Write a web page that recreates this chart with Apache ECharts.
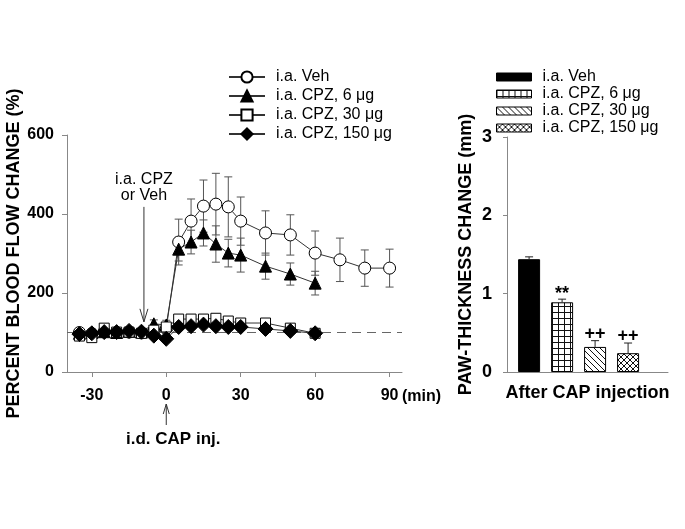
<!DOCTYPE html>
<html><head><meta charset="utf-8">
<script src="https://cdn.jsdelivr.net/npm/echarts@6/dist/echarts.min.js"></script>
<style>html,body{margin:0;padding:0;background:#fff}#c{width:685px;height:529px}</style>
</head><body><div id="c"></div>
<script>
// ---------- Left panel data (percent blood flow change) ----------
const times = [-35,-30,-25,-20,-15,-10,-5,0,5,10,15,20,25,30,40,50,60,70,80,90];
const vehMean = [100,97,102,100,101,99,104,110,329,382,420,425,418,382,352,347,301,284,263,263];
const vehSem  = [8,8,8,8,8,8,8,10,58,56,66,78,76,61,56,51,56,55,46,48];
const cpz6Mean = [98,100,102,100,103,101,122,119,311,329,352,324,301,296,268,248,225];
const cpz6Sem  = [8,8,8,8,8,8,10,12,30,30,33,46,35,43,33,28,30];
const cpz30Mean = [91,87,111,101,101,98,106,114,134,134,134,136,129,124,124,111,98];
const cpz30Sem  = [8,8,8,8,8,8,8,8,8,8,8,8,8,8,8,8,8];
const cpz150Mean = [96,98,101,101,104,102,92,84,114,116,120,116,114,114,109,104,98];
const cpz150Sem  = [8,8,8,8,8,8,8,8,8,8,8,8,8,8,8,8,8];
const leftNames = ['i.a. Veh','i.a. CPZ, 6 \u03bcg','i.a. CPZ, 30 \u03bcg','i.a. CPZ, 150 \u03bcg'];
const xTickLabels = [-30,0,30,60,90];
const xMin = -40, xMax = 95;
const baselineValue = 100;
// annotations
const iaArrowTime = -9, iaArrowTopVal = 418, iaArrowTipVal = 127, iaLabelVal = 466;
const iaLabel = 'i.a. CPZ\nor Veh';
const idLabel = 'i.d. CAP inj.';
const unitLabel = '(min)';

// ---------- Right panel data (paw thickness) ----------
const barNames = ['i.a. Veh','i.a. CPZ, 6 \u03bcg','i.a. CPZ, 30 \u03bcg','i.a. CPZ, 150 \u03bcg'];
const pawMean = [1.44, 0.89, 0.32, 0.24];
const pawSem  = [0.03, 0.04, 0.08, 0.13];
const pawMarks = ['', '**', '++', '++'];

const FONT = 'Liberation Sans';

function pat(draw){
  const c=document.createElement('canvas'); c.width=6; c.height=6;
  const g=c.getContext('2d'); g.fillStyle='#fff'; g.fillRect(0,0,6,6);
  g.strokeStyle='#111'; g.lineWidth=1; g.beginPath(); draw(g); g.stroke();
  return {image:c, repeat:'repeat'};
}
const fills = [
  '#000',
  pat(g=>{g.moveTo(0,0.5);g.lineTo(6,0.5);g.moveTo(0.5,0);g.lineTo(0.5,6);}),
  pat(g=>{g.moveTo(-1,-1);g.lineTo(7,7);g.moveTo(-1,5);g.lineTo(1,7);g.moveTo(5,-1);g.lineTo(7,1);}),
  pat(g=>{g.moveTo(-1,-1);g.lineTo(7,7);g.moveTo(-1,5);g.lineTo(1,7);g.moveTo(5,-1);g.lineTo(7,1);
          g.moveTo(-1,7);g.lineTo(7,-1);g.moveTo(-1,1);g.lineTo(1,-1);g.moveTo(5,7);g.lineTo(7,5);})
];

function pairs(m){ return m.map((v,i)=>[times[i], v]); }
function errs(m,s){ return m.map((v,i)=>[times[i], v-s[i], v+s[i]]); }
function errRender(params, api){
  const x=api.value(0);
  const lo=api.coord([x, api.value(1)]), hi=api.coord([x, api.value(2)]);
  const w=4, st={stroke:'#555', lineWidth:1};
  return {type:'group', children:[
    {type:'line', shape:{x1:lo[0],y1:lo[1],x2:hi[0],y2:hi[1]}, style:st},
    {type:'line', shape:{x1:hi[0]-w,y1:hi[1],x2:hi[0]+w,y2:hi[1]}, style:st},
    {type:'line', shape:{x1:lo[0]-w,y1:lo[1],x2:lo[0]+w,y2:lo[1]}, style:st}
  ]};
}

const leftSets = [
  {m:vehMean, s:vehSem, sym:'circle', size:12, fill:'#fff'},
  {m:cpz6Mean, s:cpz6Sem, sym:'triangle', size:12, fill:'#000'},
  {m:cpz30Mean, s:cpz30Sem, sym:'rect', size:10, fill:'#fff'},
  {m:cpz150Mean, s:cpz150Sem, sym:'diamond', size:15, fill:'#000'}
];

const series = [];
leftSets.forEach((d,i)=>{
  series.push({type:'custom', name:'err'+i, xAxisIndex:0, yAxisIndex:0, z:1,
    renderItem: errRender, encode:{x:0, y:[1,2]}, data: errs(d.m, d.s), silent:true});
});
leftSets.forEach((d,i)=>{
  const s = {type:'line', name:leftNames[i], xAxisIndex:0, yAxisIndex:0, z:3+i,
    data: pairs(d.m), symbol:d.sym, symbolSize:d.size, showAllSymbol:true,
    lineStyle:{color:'#333', width:1},
    itemStyle:{color:d.fill, borderColor:'#000', borderWidth:1, opacity:1},
    emphasis:{disabled:true}, animation:false};
  if(i===0){
    s.markLine = {silent:true, symbol:'none', label:{show:false},
      lineStyle:{color:'#666', type:[9,6], width:1}, data:[{yAxis: baselineValue}]};
  }
  series.push(s);
});
barNames.forEach((n,i)=>{
  series.push({type:'bar', name:n, xAxisIndex:1, yAxisIndex:1, data:[[i+1, pawMean[i]]],
    barWidth:22, barGap:'-100%',
    itemStyle:{color:fills[i], borderColor:'#000', borderWidth:1}, animation:false});
});
series.push({type:'custom', name:'pawErr', xAxisIndex:1, yAxisIndex:1, z:5, silent:true,
  data: pawMean.map((m,i)=>[i+1, m, m+pawSem[i], i]),
  encode:{x:0, y:[1,2]},
  renderItem:(p, api)=>{
    const x=api.value(0);
    const b=api.coord([x, api.value(1)]), t=api.coord([x, api.value(2)]);
    const st={stroke:'#222', lineWidth:1};
    const mark=pawMarks[api.value(3)];
    return {type:'group', children:[
      {type:'line', shape:{x1:b[0],y1:b[1],x2:t[0],y2:t[1]}, style:st},
      {type:'line', shape:{x1:t[0]-4,y1:t[1],x2:t[0]+4,y2:t[1]}, style:st},
      {type:'text', style:{text:mark, x:t[0], y:t[1]+(mark==='**'?4:2), align:'center', verticalAlign:'bottom',
        font:'bold 18px '+FONT, fill:'#000'}}
    ]};
  }});

const axisLineGray = {onZero:false, lineStyle:{color:'#888', width:1}};
const option = {
  animation:false,
  textStyle:{fontFamily:FONT},
  legend:[
    {data:leftNames, orient:'vertical', left:228, top:69, padding:0, itemWidth:36, itemHeight:14, itemGap:3,
     textStyle:{fontSize:16, color:'#000', fontFamily:FONT, padding:[0,0,0,6]}, selectedMode:false},
    {data:barNames.map((n,i)=>({name:n, icon:'rect', itemStyle:{color:fills[i], borderColor:'#000', borderWidth:1}})),
     orient:'vertical', left:496, top:69, padding:0, itemWidth:35, itemHeight:8, itemGap:1, icon:'rect',
     textStyle:{fontSize:16, color:'#000', fontFamily:FONT, padding:[0,0,0,6]}, selectedMode:false}
  ],
  grid:[
    {left:67, right:283, top:135, bottom:157},
    {left:507, right:17, top:137, bottom:157}
  ],
  xAxis:[
    {type:'value', gridIndex:0, min:xMin, max:xMax, splitLine:{show:false},
     axisLine:axisLineGray, axisTick:{show:true, length:5, customValues:xTickLabels, lineStyle:{color:'#888'}},
     axisLabel:{customValues:xTickLabels, fontSize:16, fontWeight:'bold', color:'#000', margin:16, fontFamily:FONT}},
    {type:'value', gridIndex:1, min:0.33, max:5.21, splitLine:{show:false},
     axisLine:axisLineGray, axisTick:{show:false}, axisLabel:{show:false},
     name:'After CAP injection', nameLocation:'middle', nameGap:12,
     nameTextStyle:{fontSize:18, fontWeight:'bold', color:'#000', fontFamily:FONT}}
  ],
  yAxis:[
    {type:'value', gridIndex:0, min:0, max:600, interval:200, splitLine:{show:false},
     axisLine:{show:true, onZero:false, lineStyle:{color:'#888'}}, axisTick:{show:true, length:5, lineStyle:{color:'#888'}},
     axisLabel:{fontSize:16, fontWeight:'bold', color:'#000', margin:13, fontFamily:FONT},
     name:'PERCENT BLOOD FLOW CHANGE (%)', nameLocation:'middle', nameGap:39,
     nameTextStyle:{fontSize:18, fontWeight:'bold', color:'#000', fontFamily:FONT}},
    {type:'value', gridIndex:1, min:0, max:3, interval:1, splitLine:{show:false},
     axisLine:{show:true, onZero:false, lineStyle:{color:'#888'}}, axisTick:{show:true, length:4, lineStyle:{color:'#888'}},
     axisLabel:{fontSize:18, fontWeight:'bold', color:'#000', margin:15, fontFamily:FONT},
     name:'PAW-THICKNESS CHANGE (mm)', nameLocation:'middle', nameGap:32,
     nameTextStyle:{fontSize:18, fontWeight:'bold', color:'#000', fontFamily:FONT}}
  ],
  series: series
};

const chart = echarts.init(document.getElementById('c'), null, {renderer:'canvas'});
chart.setOption(option);

const px = pt => chart.convertToPixel({gridIndex:0}, pt);
const aTop = px([iaArrowTime, iaArrowTopVal]);
const aTip = px([iaArrowTime, iaArrowTipVal]);
const aLab = px([iaArrowTime, iaLabelVal]);
const zero = px([0, 0]);
const endPt = px([xMax, 0]);
const st = {stroke:'#333', lineWidth:1, fill:null};
chart.setOption({graphic:[
  {type:'text', x:aLab[0], y:aLab[1], style:{text:iaLabel, align:'center', verticalAlign:'middle',
    font:'16px '+FONT, lineHeight:16, fill:'#000'}},
  {type:'line', shape:{x1:aTop[0], y1:aTop[1], x2:aTip[0], y2:aTip[1]}, style:st},
  {type:'polyline', shape:{points:[[aTip[0]-4, aTip[1]-13],[aTip[0], aTip[1]],[aTip[0]+4, aTip[1]-13]]}, style:st},
  {type:'line', shape:{x1:zero[0], y1:zero[1]+53, x2:zero[0], y2:zero[1]+32}, style:st},
  {type:'polyline', shape:{points:[[zero[0]-3, zero[1]+42],[zero[0], zero[1]+32],[zero[0]+3, zero[1]+42]]}, style:st},
  {type:'text', x:zero[0]+7, y:zero[1]+67, style:{text:idLabel, align:'center', verticalAlign:'middle',
    font:'bold 17px '+FONT, fill:'#000'}},
  {type:'text', x:endPt[0], y:endPt[1]+25, style:{text:unitLabel, align:'left', verticalAlign:'middle',
    font:'bold 16px '+FONT, fill:'#000'}}
]});
</script>
</body></html>
